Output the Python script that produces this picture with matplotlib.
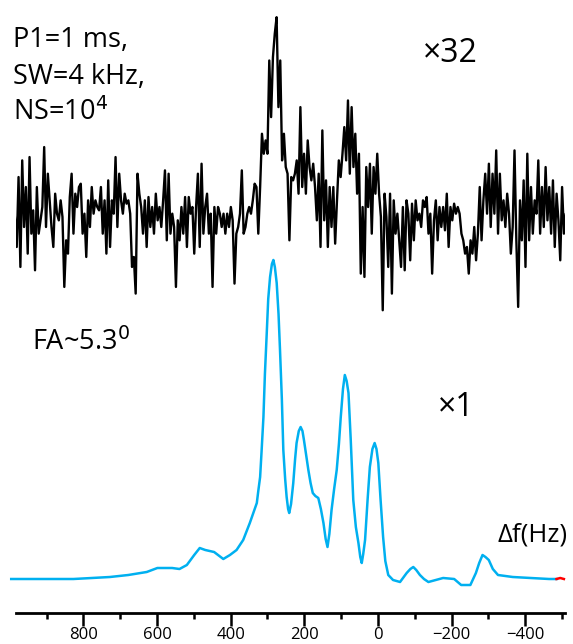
import numpy as np
import matplotlib
matplotlib.use("Agg")
import matplotlib.pyplot as plt

plt.rcParams['font.family'] = ['Open Sans', 'DejaVu Sans']

noisy_freq_start, noisy_freq_end = 986, -515
noisy = [0, -9, 12, -15, 17, -3, 9, -11, 18, -5, 2, -16, 9, -5, -1, 3, 21, -3, 13, 5,
         -3, -9, 7, 1, -1, 5, 0, -21, -7, -11, 6, 13, -5, 7, 3, 9, 10, -5, 1, -12,
         5, -3, 9, 1, 5, 3, 2, 9, -5, 5, -11, 11, -9, 5, 1, 18, -3, 13, 5, 1,
         7, 4, 5, 1, -15, -12, -23, 13, 7, 3, -5, 5, -9, 6, -3, 3, -5, 7, -1, 3,
         -3, 5, 14, -7, 13, -5, 1, -3, -21, -1, -7, 3, -5, 6, -9, 6, 1, 3, -11, 3,
         13, -9, 16, -5, 3, 7, -5, 1, -21, 3, -5, 3, 1, -3, 1, -5, 1, -3, 3, -1,
         -20, -5, -3, 1, 14, -5, -3, 1, 3, 1, 5, 10, 9, -5, 9, 25, 19, 23, 19, 47,
         30, 48, 55, 60, 33, 47, 17, 25, 15, 13, -7, 12, 11, 13, 17, 7, 33, 9, 19, 7,
         23, 15, 11, 16, 9, -1, 13, -9, 26, -1, 11, -9, 9, -3, 9, -8, 5, 17, 12, 19,
         27, 17, 35, 13, 33, 15, 25, 7, 19, -17, 3, -18, 15, 3, 16, -5, 15, 7, 19, 7,
         0, -28, 7, 0, -15, 7, -23, 5, -5, 1, -7, -15, 3, -16, 5, 1, -13, 4, -7, 5,
         -1, 1, -3, 5, 3, 6, -5, 1, -17, -1, 5, -7, 3, -3, 3, -4, 7, -9, 3, -1,
         4, 1, 3, 1, -5, -7, -11, -9, -17, -7, -11, -3, -13, -5, 9, -7, 5, 13, 1, 16,
         -3, 13, 1, 20, -5, 13, -1, 5, -3, 7, 1, -11, -3, 20, -7, -27, 5, -7, 11, -15,
         19, -7, 9, -5, 5, 1, 17, -5, 9, -3, 15, -1, 9, -5, 11, -9, 7, -1, -13, 9,
         -5, 1, 1]

# x1 spectrum (blue)
spec_freq = [996, 927, 827, 777, 728, 678, 628, 599, 559, 539, 519, 499, 484, 469, 445,
             420, 402, 384, 366, 348, 329, 325, 320, 316, 311, 307, 302, 298, 293, 288,
             284, 280, 275, 270, 266, 261, 257, 252, 248, 244, 241, 236, 230, 225, 221,
             215, 210, 205, 201, 195, 189, 183, 177, 170, 162, 155, 148, 142, 137, 132,
             126, 119, 112, 106, 101, 95, 90, 85, 80, 74, 67, 60, 53, 48, 44,
             40, 35, 28, 22, 15, 9, 4, -1, -7, -14, -20, -28, -41, -60, -70,
             -78, -88, -96, -104, -114, -125, -137, -177, -207, -226, -251, -266, -275, -284, -292,
             -301, -312, -326, -366, -415, -465, -485]
spec = [0, 0, 0, 1, 2, 4, 7, 11, 11, 10, 14, 24, 31, 29, 27,
        20, 24, 29, 39, 56, 76, 88, 102, 128, 162, 205, 246, 280, 302, 315,
        319, 312, 296, 265, 229, 180, 129, 100, 82, 70, 66, 75, 96, 120, 136,
        148, 152, 148, 139, 124, 109, 96, 86, 83, 81, 70, 56, 40, 32, 45,
        69, 90, 109, 135, 162, 190, 204, 198, 186, 140, 79, 52, 36, 22, 16,
        25, 39, 80, 112, 130, 136, 130, 116, 80, 42, 18, 4, -1, -3, 2,
        6, 10, 12, 9, 4, 0, -3, 1, 0, -6, -6, 6, 16, 24, 22,
        19, 10, 4, 2, 1, 0, 0]
tail_freq = [-485, -495, -505]
tail = [0, 1, 0]

major_ticks = [800, 600, 400, 200, 0, -200, -400]
minor_ticks = [900, 700, 500, 300, 100, -100, -300, -500]

W, H = 573, 644
fig = plt.figure(figsize=(W / 100, H / 100), dpi=100)
ax = fig.add_axes([16 / W, 31 / H, 549 / W, 613 / H])

spec_base = 34
noisy_base = 396
noisy_scale = 3.33

f_noisy = np.linspace(noisy_freq_start, noisy_freq_end, len(noisy))
ax.plot(f_noisy, noisy_base + noisy_scale * np.array(noisy), color='black', lw=1.7)
ax.plot(spec_freq, spec_base + np.array(spec), color='#00B0F0', lw=1.8, clip_on=False)
ax.plot(tail_freq, spec_base + np.array(tail), color='red', lw=1.8, clip_on=False)

ax.set_xlim(983, -508)
ax.set_ylim(0, 613)
for s in ['top', 'right', 'left']:
    ax.spines[s].set_visible(False)
ax.spines['bottom'].set_linewidth(2)
ax.set_yticks([])
ax.set_xticks(major_ticks)
ax.set_xticks(minor_ticks, minor=True)
ax.tick_params(axis='x', which='major', length=9, width=1.8, labelsize=12, pad=1)
ax.tick_params(axis='x', which='minor', length=4, width=1.8)


def label(x, y, s, size):
    # x, y: left edge / vertical centre in picture pixels from top-left
    fig.text(x / W, 1 - y / H, s, fontsize=size, va='center', ha='left')


label(13, 40, 'P1=1 ms,', 19.5)
label(13, 77, 'SW=4 kHz,', 19.5)
label(13, 113, r'NS=10$^{4}$', 19.5)
label(423, 53, '×32', 23)
label(32, 343, r'FA~5.3$^{0}$', 19.5)
label(438, 408, '×1', 23)
label(498, 535, 'Δf(Hz)', 18.5)

fig.savefig('out.png', dpi=100)
